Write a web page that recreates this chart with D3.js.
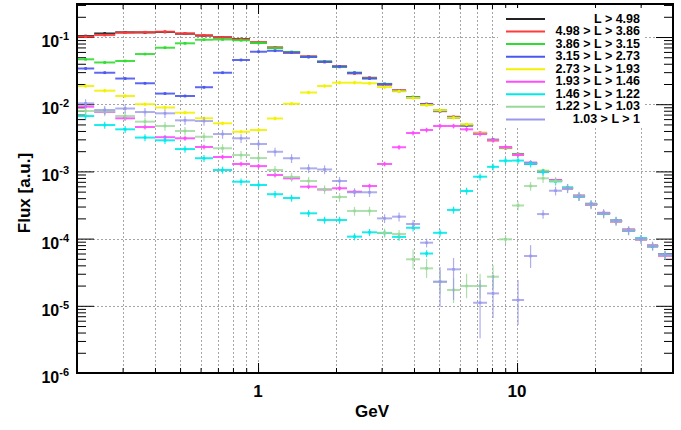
<!DOCTYPE html>
<html>
<head>
<meta charset="utf-8">
<script src="https://cdn.jsdelivr.net/npm/d3@7"></script>
<style>
  body { margin: 0; background: #fff; }
  svg { display: block; font-family: "Liberation Sans", Arial, sans-serif; }
</style>
</head>
<body>
<div id="chart"></div>
<script>
// energy bins (GeV), 40 bins
const binEdges = [0.2, 0.233, 0.281, 0.335, 0.400, 0.478, 0.571, 0.670, 0.794, 0.931,
  1.083, 1.249, 1.453, 1.690, 1.931, 2.206, 2.520, 2.880, 3.292, 3.728,
  4.222, 4.740, 5.366, 6.025, 6.764, 7.659, 8.52, 9.566, 10.64, 11.95,
  13.29, 14.92, 16.45, 18.30, 20.37, 22.86, 25.43, 28.55, 31.76, 35.03, 39.68];

const legendLabels = ["L > 4.98", "4.98 > L > 3.86", "3.86 > L > 3.15", "3.15 > L > 2.73",
  "2.73 > L > 1.93", "1.93 > L > 1.46", "1.46 > L > 1.22", "1.22 > L > 1.03", "1.03 > L > 1"];

const seriesColors = ["#222222", "#ff3b3b", "#2fdc2f", "#4a58f0", "#f2f200",
  "#ff4cff", "#00eaea", "#99d899", "#9a9aea"];

// flux per bin, one array per L range (null = empty bin)
const fluxL1 = [0.1035, 0.113, 0.1175, 0.117, 0.1187, 0.112, 0.105, 0.099, 0.0934, 0.0828,
  0.0693, 0.0592, 0.0509, 0.0429, 0.0362, 0.0291, 0.0245, 0.0198, 0.0159, 0.0127,
  0.0099, 0.0080, 0.00638, 0.0049, 0.00369, 0.00293, 0.00225, 0.00180, 0.00132, 0.00101,
  0.000727, 0.000566, 0.000430, 0.000324, 0.000238, 0.000183, 0.000134, 0.0000986, 0.0000776, 0.0000570];
const fluxL2 = [0.101, 0.107, 0.116, 0.118, 0.120, 0.113, 0.106, 0.0985, 0.0925, 0.0835,
  0.070, 0.0585, 0.0515, 0.0425, 0.0365, 0.0288, 0.0248, 0.0196, 0.0161, 0.0125,
  0.0101, 0.0079, 0.0065, 0.00485, 0.00375, 0.0029, 0.00228, 0.00178, 0.00134, 0.000995,
  0.000735, 0.00056, 0.000425, 0.00033, 0.000235, 0.000186, 0.000132, 0.0001, 0.0000765, 0.0000585];
const fluxL3 = [0.0466, 0.0418, 0.044, 0.0558, 0.0693, 0.0806, 0.0912, 0.092, 0.0895, 0.0815,
  0.0685, 0.060, 0.0505, 0.0432, 0.0358, 0.0294, 0.0243, 0.0201, 0.0157, 0.0128,
  0.0098, 0.0081, 0.0063, 0.00495, 0.00372, 0.00295, 0.00222, 0.00182, 0.0013, 0.00102,
  0.00072, 0.00057, 0.000435, 0.00032, 0.00024, 0.00018, 0.000136, 0.0000975, 0.000079, 0.0000565];
const fluxL4 = [0.034, 0.0294, 0.0241, 0.0205, 0.0144, 0.01325, 0.0179, 0.0294, 0.0455, 0.0604,
  0.0624, 0.0588, 0.0505, 0.0427, 0.0364, 0.0293, 0.0242, 0.0199, 0.0158, 0.0126,
  0.0100, 0.0079, 0.0064, 0.0048, 0.00366, 0.00296, 0.00224, 0.00179, 0.00131, 0.00100,
  0.00073, 0.000562, 0.000428, 0.000326, 0.000236, 0.000184, 0.000133, 0.0000995, 0.0000772, 0.0000575];
const fluxL5 = [0.01866, 0.0159, 0.01325, 0.0100, 0.00894, 0.00748, 0.00617, 0.0052, 0.0039, 0.00413,
  0.00613, 0.01017, 0.01493, 0.01866, 0.0209, 0.0209, 0.0205, 0.0180, 0.0156, 0.0124,
  0.0097, 0.0081, 0.0063, 0.0050, 0.0037, 0.00288, 0.00226, 0.00177, 0.00133, 0.00102,
  0.000722, 0.00057, 0.000433, 0.000321, 0.000239, 0.000181, 0.000135, 0.0000975, 0.0000785, 0.0000562];
const fluxL6 = [0.00918, 0.00765, 0.00617, 0.00458, 0.00323, 0.00311, 0.00231, 0.00164, 0.00129, 0.0012,
  0.000884, 0.000789, 0.000592, 0.000538, 0.000561, 0.000499, 0.000606, 0.00129, 0.00229, 0.00373,
  0.00413, 0.00474, 0.00474, 0.00423, 0.0036, 0.0029, 0.0023, 0.00176, 0.00135, 0.00099,
  0.00074, 0.000555, 0.000438, 0.000318, 0.000242, 0.000179, 0.000137, 0.0000965, 0.0000795, 0.0000555];
const fluxL7 = [0.00667, 0.0049, 0.00423, 0.00319, 0.0029, 0.00215, 0.00157, 0.00105, 0.000703, 0.000628,
  0.000458, 0.000402, 0.000238, 0.000189, 0.000189, 0.000107, 0.000124, 0.000121, 0.000106, 0.000145,
  0.00006, 0.000122, 0.000267, 0.000511, 0.000834, 0.00117, 0.00144, 0.00145, 0.0013, 0.00098,
  0.00071, 0.00058, 0.00042, 0.000328, 0.000234, 0.000185, 0.000131, 0.000101, 0.0000765, 0.0000578];
const fluxL8 = [0.00792, 0.00778, 0.00667, 0.0055, 0.00474, 0.00399, 0.00328, 0.00221, 0.00175, 0.00158,
  0.00105, 0.000826, 0.00072, 0.000541, 0.000416, 0.000258, 0.000258, 0.000122, 0.000117, 0.0000492,
  0.0000361, 0.0000228, 0.0000172, 0.0000197, 0.0000197, 0.0000271, 0.0000977, 0.000311, 0.000606, 0.000789,
  0.00072, 0.00056, 0.000432, 0.000322, 0.000236, 0.000182, 0.000133, 0.0000978, 0.0000782, 0.0000568];
const fluxL9 = [0.0103, 0.0082, 0.00863, 0.00765, 0.00732, 0.00576, 0.00562, 0.0036, 0.00311, 0.00256,
  0.00196, 0.00157, 0.00111, 0.00107, 0.00072, 0.000489, 0.000489, 0.0002, 0.000212, 0.000165,
  0.0000869, 0.0000228, 0.0000349, null, 0.0000111, 0.0000153, null, 0.0000122, 0.0000551, 0.000232,
  0.000516, 0.00056, 0.000427, 0.000325, 0.000237, 0.000184, 0.000132, 0.0000982, 0.0000778, 0.0000572];

const allFlux = [fluxL1, fluxL2, fluxL3, fluxL4, fluxL5, fluxL6, fluxL7, fluxL8, fluxL9];

// typical relative error per series, plus the few wide error bars
const relErr = [0.02, 0.02, 0.03, 0.04, 0.06, 0.08, 0.12, 0.15, 0.15];
const wideErrors = [
  [7, 19, 3.5e-5, 6.9e-5], [7, 20, 2.6e-5, 5.0e-5], [7, 21, 1.5e-5, 3.4e-5],
  [7, 22, 1.1e-5, 2.6e-5], [7, 23, 1.3e-5, 3.0e-5], [7, 24, 1.3e-5, 3.0e-5], [7, 25, 1.8e-5, 4.0e-5],
  [8, 21, 9.6e-6, 3.78e-5], [8, 22, 1.22e-5, 5.14e-5], [8, 24, 3.3e-6, 2.42e-5],
  [8, 25, 6.6e-6, 2.87e-5], [8, 27, 5.2e-6, 2.42e-5], [8, 28, 3.65e-5, 8.0e-5]
];

const yDecades = [1e-6, 1e-5, 1e-4, 1e-3, 1e-2, 1e-1];
const yExponents = ["-6", "-5", "-4", "-3", "-2", "-1"];
const xTickValues = [0.2, 0.3, 0.4, 0.5, 0.6, 0.7, 0.8, 0.9, 1, 2, 3, 4, 5, 6, 7, 8, 9, 10, 20, 30, 40];
const xLabelValues = [1, 10];

const width = 681, height = 430;
const plotL = 77, plotR = 673, plotT = 4, plotB = 373;

const svg = d3.select("#chart").append("svg")
  .attr("width", width).attr("height", height);

const x = d3.scaleLog().domain([0.2, 40]).range([plotL, plotR]);
const y = d3.scaleLog().domain([1e-6, 0.31]).range([plotB, plotT]);

const yMinor = [];
for (let k = -6; k <= -1; k++) {
  for (let m = 2; m <= 9; m++) {
    const v = m * Math.pow(10, k);
    if (v < 0.31) yMinor.push(v);
  }
}

// grid
const grid = svg.append("g").attr("stroke", "#a5a5a5").attr("stroke-width", 1)
  .attr("stroke-dasharray", "2,2");
grid.selectAll(".gx").data(xTickValues.slice(1, -1)).join("line")
  .attr("x1", d => Math.round(x(d)) + 0.5).attr("x2", d => Math.round(x(d)) + 0.5)
  .attr("y1", plotT).attr("y2", plotB);
grid.selectAll(".gy").data(yDecades.slice(1)).join("line")
  .attr("x1", plotL).attr("x2", plotR)
  .attr("y1", d => Math.round(y(d)) + 0.5).attr("y2", d => Math.round(y(d)) + 0.5);

// axes with inward ticks
function axisG(axis, tx, ty) {
  const g = svg.append("g").attr("transform", `translate(${tx},${ty})`).call(axis);
  g.select(".domain").remove();
  g.selectAll("line").attr("stroke", "#000");
  return g;
}
axisG(d3.axisLeft(y).tickValues(yDecades).tickSize(-17).tickFormat(""), plotL, 0);
axisG(d3.axisLeft(y).tickValues(yMinor).tickSize(-9).tickFormat(""), plotL, 0);
axisG(d3.axisRight(y).tickValues(yDecades).tickSize(-17).tickFormat(""), plotR, 0);
axisG(d3.axisRight(y).tickValues(yMinor).tickSize(-9).tickFormat(""), plotR, 0);
axisG(d3.axisBottom(x).tickValues(xTickValues).tickSize(-5).tickFormat(""), 0, plotB);
axisG(d3.axisBottom(x).tickValues(xLabelValues).tickSize(-10).tickFormat(""), 0, plotB);
axisG(d3.axisTop(x).tickValues(xTickValues).tickSize(-5).tickFormat(""), 0, plotT);
axisG(d3.axisTop(x).tickValues(xLabelValues).tickSize(-10).tickFormat(""), 0, plotT);

// data: horizontal bin bars + vertical error bars
allFlux.forEach((flux, s) => {
  const g = svg.append("g").attr("stroke", seriesColors[s]).attr("fill", seriesColors[s])
    .attr("stroke-opacity", s >= 7 ? 0.8 : 0.9);
  const pts = flux.map((v, i) => ({ v, i })).filter(d => d.v != null);
  pts.forEach(d => {
    const x0 = x(binEdges[d.i]), x1 = x(binEdges[d.i + 1]);
    const xc = (x0 + x1) / 2;
    const wide = wideErrors.find(w => w[0] === s && w[1] === d.i);
    const lo = wide ? wide[2] : d.v * (1 - relErr[s]);
    const hi = wide ? wide[3] : d.v * (1 + relErr[s]);
    const yc = y(d.v);
    g.append("line").attr("x1", x0).attr("x2", x1).attr("y1", yc).attr("y2", yc)
      .attr("stroke-width", 2);
    g.append("line").attr("x1", xc).attr("x2", xc).attr("y1", y(lo)).attr("y2", y(hi))
      .attr("stroke-width", 1.2);
    g.append("rect").attr("x", xc - 1.3).attr("y", yc - 1.3).attr("width", 2.6).attr("height", 2.6)
      .attr("stroke", "none");
  });
});

// frame
svg.append("rect").attr("x", plotL).attr("y", plotT).attr("width", plotR - plotL).attr("height", plotB - plotT)
  .attr("fill", "none").attr("stroke", "#000").attr("stroke-width", 2);

// tick labels
const yl = svg.append("g").attr("font-weight", "bold").attr("fill", "#000");
yDecades.forEach((d, i) => {
  const t = yl.append("text").attr("x", 69).attr("y", y(d) + 10).attr("text-anchor", "end")
    .attr("font-size", 16);
  t.append("tspan").text("10");
  t.append("tspan").attr("font-size", 11).attr("dy", -7).text(yExponents[i]);
});
svg.append("g").selectAll("text").data(xLabelValues).join("text")
  .attr("x", d => x(d)).attr("y", 397).attr("text-anchor", "middle")
  .attr("font-size", 17).attr("font-weight", "bold").text(d => d);

svg.append("text").attr("x", 372).attr("y", 417).attr("text-anchor", "middle")
  .attr("font-size", 17).attr("font-weight", "bold").text("GeV");
svg.append("text").attr("transform", "translate(24,193) rotate(-90)")
  .attr("text-anchor", "middle").attr("dominant-baseline", "central")
  .attr("font-size", 17).attr("font-weight", "bold").text("Flux [a.u.]");

// legend
const lg = svg.append("g");
lg.append("rect").attr("x", 498).attr("y", 8).attr("width", 145).attr("height", 120).attr("fill", "#fff");
legendLabels.forEach((lab, i) => {
  const ly = 19 + i * 12.55;
  lg.append("line").attr("x1", 506).attr("x2", 545).attr("y1", ly).attr("y2", ly)
    .attr("stroke", seriesColors[i]).attr("stroke-width", 2);
  lg.append("text").attr("x", 640).attr("y", ly + 3.5).attr("text-anchor", "end")
    .attr("font-size", 12.5).attr("font-weight", "bold").text(lab);
});
</script>
</body>
</html>
